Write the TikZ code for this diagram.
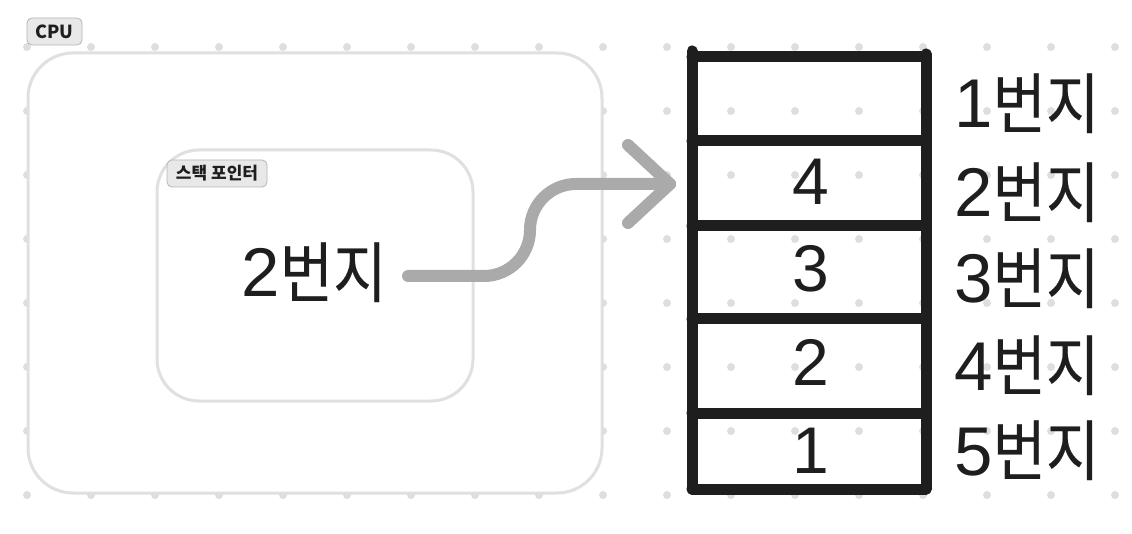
\documentclass[tikz,border=0pt]{standalone}
\usepackage{fontspec}
\setmainfont{Noto Sans CJK KR}
\newfontfamily\bigfont[FakeStretch=0.88,FakeBold=0.3]{Noto Sans CJK KR}
\newfontfamily\digitfont{Liberation Sans}
\newcommand{\dg}[1]{{\digitfont\fontsize{69}{70}\selectfont #1}}
\definecolor{ink}{HTML}{1E1E1E}
\definecolor{dotgray}{HTML}{DEDEDE}
\definecolor{framegray}{HTML}{E0E0E0}
\definecolor{arrowgray}{HTML}{AAAAAA}
\definecolor{tagfill}{HTML}{E8E8E8}
\definecolor{tagline}{HTML}{B5B5B5}
\begin{document}
\begin{tikzpicture}[x=1pt,y=-1pt,
  frame/.style={draw=framegray, line width=3pt, fill=white, rounded corners=45pt, inner sep=0pt},
  tag/.style={draw=tagline, fill=tagfill, rounded corners=5pt, line width=0.8pt, inner sep=0pt,
    minimum height=27pt, font=\fontsize{17}{19}\selectfont\bfseries, text=ink},
  bigtext/.style={inner sep=0pt, text=ink, font=\bigfont\fontsize{66}{70}\selectfont},
  numtext/.style={inner sep=0pt, text=ink, font=\digitfont\fontsize{66}{70}\selectfont},
  stackline/.style={draw=ink, line width=11pt, line cap=round},
  arrowline/.style={draw=arrowgray, line width=12pt, line cap=round, line join=round}]
\useasboundingbox[fill=white] (0,0) rectangle (1132,534);
% dot grid
\foreach \i in {0,...,17}
  \foreach \j in {0,...,7}
    \fill[dotgray] ({27+64*\i},{47+64*\j}) circle (4pt);
% CPU frame and stack pointer frame
\node[frame, minimum width=574pt, minimum height=440pt] (cpu) at (315,273) {};
\node[frame, rounded corners=42pt, minimum width=316pt, minimum height=251pt] (sp) at (315,275.5) {};
\node[tag, minimum width=55pt, font=\fontsize{18}{20}\selectfont\bfseries] (cputag) at (54.5,31.5) {CPU};
\node[tag, minimum width=100pt] (sptag) at (217,173.5) {스택 포인터};
\node[bigtext, anchor=base] (spval) at (314,297) {\dg{2}번지};
% arrow
\coordinate (astart) at (408,276);
\coordinate (aend) at (670,184);
\draw[arrowline, rounded corners=46pt] (astart) -- (530,276) -- (530,184) -- (aend);
\draw[arrowline] (628,145) -- (aend) -- (628,223);
% stack
\draw[stackline] (692,51) -- (692,489);
\draw[stackline] (926,54) -- (926,489);
\foreach \y in {57,141,226,319,413,489}
  \draw[stackline] (692,\y) -- (926,\y);
\node[numtext, anchor=base] (n4) at (811,205) {4};
\node[numtext, anchor=base] (n3) at (811,292) {3};
\node[numtext, anchor=base] (n2) at (811,385) {2};
\node[numtext, anchor=base] (n1) at (811,473) {1};
% address labels
\node[bigtext, anchor=base west] (a1) at (954,128) {\dg{1}번지};
\node[bigtext, anchor=base west] (a2) at (954,217) {\dg{2}번지};
\node[bigtext, anchor=base west] (a3) at (954,303) {\dg{3}번지};
\node[bigtext, anchor=base west] (a4) at (954,390) {\dg{4}번지};
\node[bigtext, anchor=base west] (a5) at (954,475) {\dg{5}번지};
\end{tikzpicture}
\end{document}
